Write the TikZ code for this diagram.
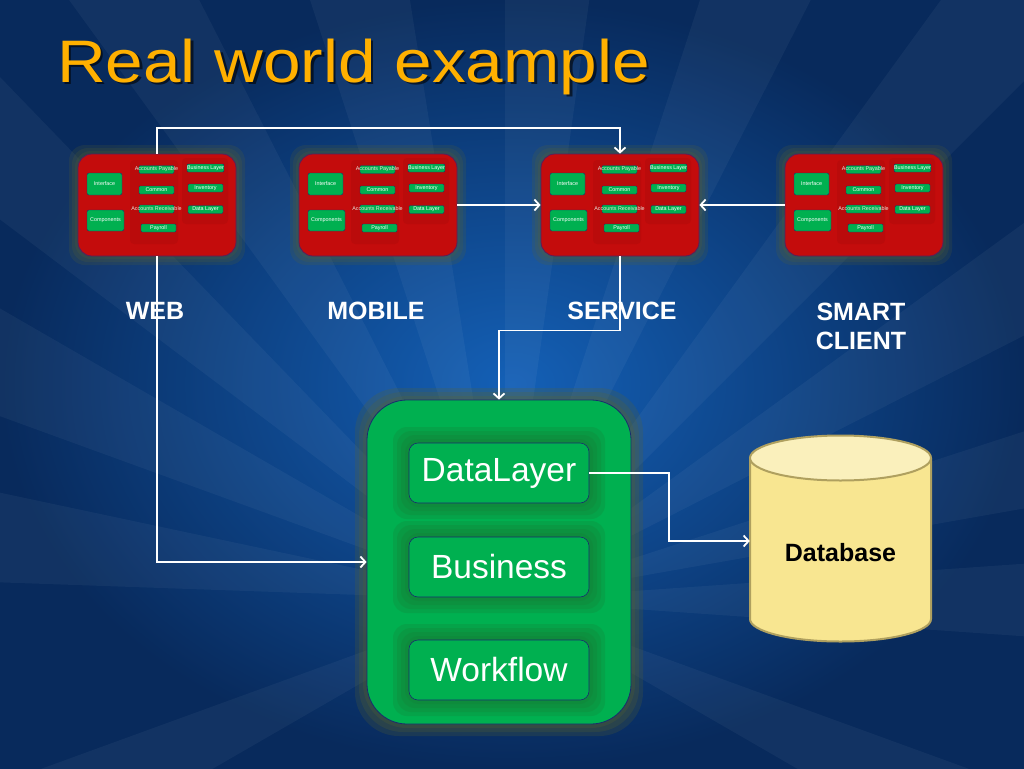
\documentclass[tikz,border=0pt]{standalone}
\usepackage{fontspec}
\setmainfont{Liberation Sans}
\usetikzlibrary{arrows.meta,calc}
\definecolor{bgdark}{RGB}{8,42,92}
\definecolor{bgmid}{RGB}{20,96,182}
\definecolor{titlecol}{RGB}{255,176,0}
\definecolor{panelred}{RGB}{196,12,12}
\definecolor{paneledge}{RGB}{90,30,90}
\definecolor{boxgreen}{RGB}{0,176,80}
\definecolor{edgeblue}{RGB}{25,45,110}
\definecolor{dbfill}{RGB}{248,230,145}
\definecolor{dbtop}{RGB}{250,240,188}
\definecolor{dbedge}{RGB}{175,160,95}
\definecolor{glowcol}{RGB}{95,100,40}
\definecolor{innerglow}{RGB}{25,120,50}
\definecolor{striptextcol}{RGB}{230,230,220}
\tikzset{
  x=1pt, y=-1pt,
  panelbox/.style={draw=paneledge, fill=panelred, line width=0.8pt,
    rounded corners=14pt, minimum width=158pt, minimum height=102pt, inner sep=0pt},
  tagbox/.style={fill=boxgreen, draw=edgeblue, line width=0.4pt, rounded corners=2pt,
    text=white, font=\fontsize{5.4}{6}\selectfont, inner sep=0pt,
    minimum width=35pt, minimum height=22pt},
  stripbox/.style={fill=boxgreen, draw=edgeblue, line width=0.4pt, rounded corners=1.2pt,
    text=white, font=\fontsize{5.4}{6}\selectfont, inner sep=0pt,
    minimum width=35pt, minimum height=8pt},
  striptext/.style={text=striptextcol, font=\fontsize{5.4}{6}\selectfont, inner sep=0pt},
  biglayer/.style={fill=boxgreen, draw=edgeblue, line width=0.6pt, rounded corners=9pt,
    minimum width=180pt, minimum height=60pt, text=white,
    font=\fontsize{33.5}{36}\selectfont, inner sep=0pt},
  platlabel/.style={text=white, font=\fontsize{25}{30}\selectfont\bfseries, align=center},
  conn/.style={draw=white, line width=1.8pt, -{Straight Barb[length=5pt,width=11pt,line width=1.8pt]}},
  panel/.pic={
    \foreach \g in {9,6,3}{
      \fill[glowcol, opacity=0.18, rounded corners=16pt] (-\g,-\g) rectangle (158+\g,102+\g);
    }
    \node[panelbox] (-box) at (79,51) {};
    \fill[black, opacity=0.05, rounded corners=4pt] (52,6) rectangle (100,90);
    \fill[black, opacity=0.05, rounded corners=4pt] (104,4) rectangle (150,70);
    \node[tagbox] (-iface) at (26.5,30) {Interface};
    \node[tagbox, minimum width=37pt, minimum height=21pt] (-comp) at (27.5,66.5) {Components};
    \node[stripbox, label={[striptext]center:Accounts Payable}] (-ap) at (78.5,15.5) {};
    \node[stripbox] (-bl) at (127.5,14) {Business Layer};
    \node[stripbox] (-common) at (78.5,36) {Common};
    \node[stripbox] (-inv) at (127.5,34) {Inventory};
    \node[stripbox, label={[striptext]center:Accounts Receivable}] (-ar) at (78.5,55) {};
    \node[stripbox] (-dl) at (127.5,55.5) {Data Layer};
    \node[stripbox] (-pay) at (80.5,74) {Payroll};
  }
}
\begin{document}
\begin{tikzpicture}
% background
\shade[inner color=bgmid, outer color=bgdark] (0,0) rectangle (1024,768);
\useasboundingbox (0,0) rectangle (1024,768);
\begin{scope}
\clip (0,0) rectangle (1024,768);
\foreach \a/\b in {-178/-168,-160/-150,-143/-134,-126/-117,-108/-99,-90/-82,-72/-63,-54/-45,-36/-27,-18/-10,-4/4,20/30,150/160}{
  \fill[white, opacity=0.045] (505,600) -- ++(\a:1400) arc[start angle=\a, end angle=\b, radius=1400] -- cycle;
}
\end{scope}
% title
\node[anchor=base west, inner sep=0pt, text=black, opacity=0.6,
  font=\fontsize{60}{64}\selectfont] at (59.5,84.5) {\scalebox{1.125}[1]{Real world example}};
\node[anchor=base west, inner sep=0pt, text=titlecol,
  font=\fontsize{60}{64}\selectfont] (title) at (57,82) {\scalebox{1.125}[1]{Real world example}};
% panels
\pic (web) at (78,154) {panel};
\pic (mob) at (299,154) {panel};
\pic (svc) at (541,154) {panel};
\pic (smart) at (785,154) {panel};
% platform labels
\node[platlabel] (lweb) at (155,311) {WEB};
\node[platlabel] (lmob) at (376,311) {MOBILE};
\node[platlabel] (lsvc) at (622,311) {SERVICE};
\node[platlabel, text width=120pt] (lsmart) at (861,326) {SMART\\[-1pt]CLIENT};
% green container
\foreach \g in {12,8,4}{
  \fill[glowcol, opacity=0.22, rounded corners=44pt] (367-\g,400-\g) rectangle (631+\g,724+\g);
}
\node[fill=boxgreen, draw=edgeblue, line width=0.8pt, rounded corners=40pt,
  minimum width=264pt, minimum height=324pt, inner sep=0pt] (cont) at (499,562) {};
\foreach \cy in {473,567,670}{
  \foreach \g in {16,12,8,4}{
    \fill[innerglow, opacity=0.22, rounded corners=14pt] (409-\g,\cy-30-\g) rectangle (589+\g,\cy+30+\g);
  }
}
\node[biglayer] (dl) at (499,473) {DataLayer};
\node[biglayer] (bus) at (499,567) {Business};
\node[biglayer] (wf) at (499,670) {Workflow};
% database cylinder
\fill[dbfill] (750,458) -- (750,619) arc[start angle=180, end angle=0, x radius=90.5, y radius=22.5] -- (931,458) -- cycle;
\draw[dbedge, line width=2pt] (750,458) -- (750,619) arc[start angle=180, end angle=0, x radius=90.5, y radius=22.5] -- (931,458);
\filldraw[fill=dbtop, draw=dbedge, line width=2pt] (840.5,458) ellipse[x radius=90.5, y radius=22.5];
\node[inner sep=0pt, minimum width=181pt, minimum height=206pt] (dbbody) at (840.5,541) {};
\node[font=\fontsize{25}{30}\selectfont\bfseries, text=black] (db) at (840.5,553) {Database};
% connectors
\draw[conn] (web-box.north) -- ++(0,-26) -| (svc-box.north);
\draw[conn] (mob-box.east) -- (svc-box.west);
\draw[conn] (smart-box.west) -- (svc-box.east);
\draw[conn] (svc-box.south) -- ++(0,74) -| (cont.north);
\draw[conn] (web-box.south) |- (cont.west);
\draw[conn] (dl.east) -- ++(80,0) |- (dbbody.west);
\end{tikzpicture}
\end{document}
